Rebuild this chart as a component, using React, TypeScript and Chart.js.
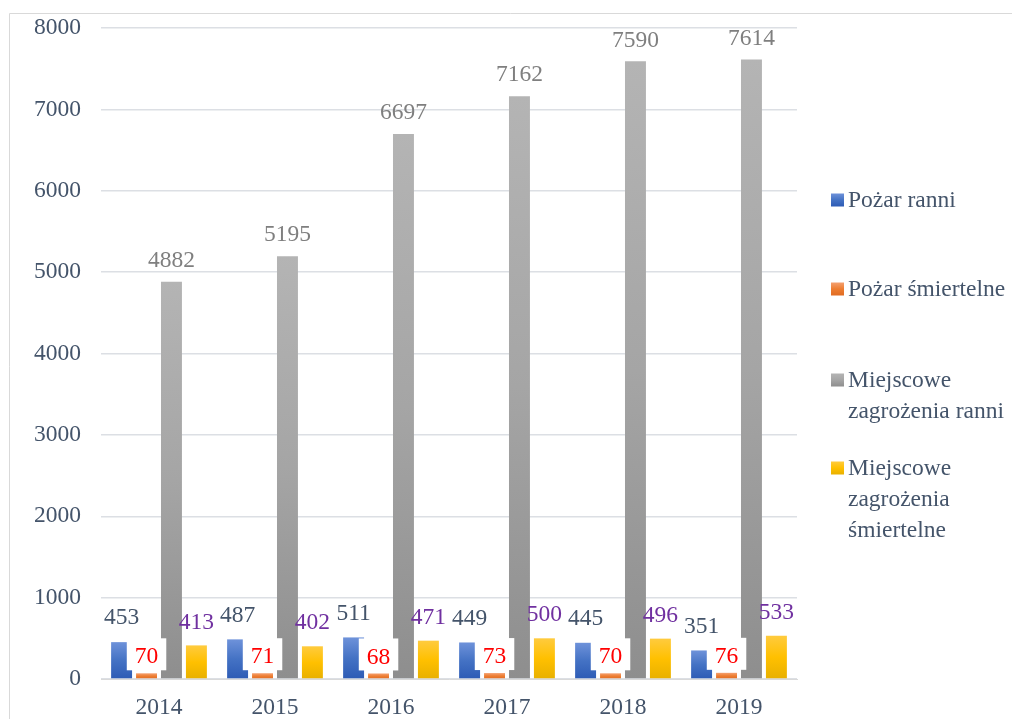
import React, { useEffect, useRef } from 'react';
import { Chart, registerables } from 'chart.js';

Chart.register(...registerables);

const years = ['2014', '2015', '2016', '2017', '2018', '2019'];
const pozarRanni = [453, 487, 511, 449, 445, 351];
const pozarSmiertelne = [70, 71, 68, 73, 70, 76];
const mzRanni = [4882, 5195, 6697, 7162, 7590, 7614];
const mzSmiertelne = [413, 402, 471, 500, 496, 533];
const seriesNames = [
  'Pożar ranni',
  'Pożar śmiertelne',
  'Miejscowe zagrożenia ranni',
  'Miejscowe zagrożenia śmiertelne',
];
const legendLines = [
  ['Pożar ranni'],
  ['Pożar śmiertelne'],
  ['Miejscowe', 'zagrożenia ranni'],
  ['Miejscowe', 'zagrożenia', 'śmiertelne'],
];

const FONT = '"Liberation Serif", "Times New Roman", serif';
const FS = 23.5;
const TEXT = '#44546A';

type Stops = [number, string][];
const blueStops: Stops = [[0, '#6E92DA'], [0.5, '#4472C4'], [1, '#2D5BB5']];
const orangeStops: Stops = [[0, '#F4A070'], [0.5, '#ED7D31'], [1, '#E06C22']];
const grayStops: Stops = [[0, '#B4B4B4'], [0.5, '#A5A5A5'], [1, '#8E8E8E']];
const yellowStops: Stops = [[0, '#FFCB3E'], [0.5, '#FFC000'], [1, '#E8B000']];

const labelStyles = [
  { color: '#44546A', offset: 25, box: false },
  { color: '#FF0000', offset: 17, box: true },
  { color: '#7F7F7F', offset: 22, box: false },
  { color: '#7030A0', offset: 24, box: false },
];

function grad(stops: Stops) {
  return (c: any) => {
    const chart = c.chart;
    const y = chart.scales && chart.scales.y;
    if (!y || c.type !== 'data' || !chart.chartArea) return stops[1][1];
    const top = y.getPixelForValue(c.raw);
    const bottom = y.getPixelForValue(0);
    if (!isFinite(top) || !isFinite(bottom) || top === bottom) return stops[1][1];
    const g = chart.ctx.createLinearGradient(0, top, 0, bottom);
    stops.forEach(([o, col]) => g.addColorStop(o, col));
    return g;
  };
}

const allStops = [blueStops, orangeStops, grayStops, yellowStops];

const labelPlugin = {
  id: 'valueLabels',
  afterDatasetsDraw(chart: any) {
    const ctx = chart.ctx;
    ctx.save();
    ctx.font = `${FS}px ${FONT}`;
    ctx.textAlign = 'center';
    ctx.textBaseline = 'middle';
    chart.data.datasets.forEach((ds: any, i: number) => {
      const meta = chart.getDatasetMeta(i);
      const st = labelStyles[i];
      meta.data.forEach((el: any, j: number) => {
        const txt = String(ds.data[j]);
        const cx = el.x;
        const cy = el.y - st.offset;
        if (st.box) {
          const w = ctx.measureText(txt).width;
          ctx.fillStyle = '#FFFFFF';
          ctx.fillRect(cx - w / 2 - 8, cy - 18, w + 16, 32);
        }
        ctx.fillStyle = st.color;
        ctx.fillText(txt, cx, cy + 1);
      });
    });
    ctx.restore();
  },
};

const framePlugin = {
  id: 'frameAndLegend',
  afterDraw(chart: any) {
    const ctx = chart.ctx;
    ctx.save();
    ctx.strokeStyle = '#D9D9D9';
    ctx.lineWidth = 1;
    ctx.beginPath();
    ctx.moveTo(9.5, chart.height);
    ctx.lineTo(9.5, 13.5);
    ctx.lineTo(chart.width, 13.5);
    ctx.stroke();

    // legend
    const startY = [200, 289, 380, 468];
    const lineH = 31;
    const boxX = 831;
    const textX = 848;
    ctx.font = `${FS}px ${FONT}`;
    ctx.textAlign = 'left';
    ctx.textBaseline = 'middle';
    legendLines.forEach((lines, i) => {
      const y0 = startY[i];
      const g = ctx.createLinearGradient(0, y0 - 6.5, 0, y0 + 6.5);
      allStops[i].forEach(([o, col]) => g.addColorStop(o, col));
      ctx.fillStyle = g;
      ctx.fillRect(boxX, y0 - 6.5, 13, 13);
      ctx.fillStyle = TEXT;
      lines.forEach((t, k) => {
        ctx.fillText(t, textX, y0 + 1 + k * lineH);
      });
    });
    ctx.restore();
  },
};

export default function App() {
  const ref = useRef<HTMLCanvasElement | null>(null);

  useEffect(() => {
    if (!ref.current) return;
    const seriesData = [pozarRanni, pozarSmiertelne, mzRanni, mzSmiertelne];
    const chart = new Chart(ref.current, {
      type: 'bar',
      data: {
        labels: years,
        datasets: seriesData.map((d, i) => ({
          label: seriesNames[i],
          data: d,
          backgroundColor: grad(allStops[i]) as any,
          borderWidth: 0,
          categoryPercentage: 0.86,
          barPercentage: 0.84,
        })),
      },
      options: {
        responsive: false,
        animation: false,
        devicePixelRatio: 1,
        layout: { padding: { top: 28, right: 215, left: 0, bottom: 0 } },
        plugins: {
          legend: { display: false },
          tooltip: { enabled: false },
        },
        scales: {
          x: {
            grid: { display: false, drawTicks: false },
            border: { display: true, color: '#D9D9D9', width: 1 },
            ticks: { font: { family: FONT, size: FS }, color: TEXT, padding: 15 },
            afterFit(s: any) {
              s.height = 40;
              s.paddingLeft = 0;
              s.paddingRight = 0;
            },
          },
          y: {
            min: 0,
            max: 8000,
            ticks: {
              stepSize: 1000,
              font: { family: FONT, size: FS },
              color: TEXT,
              padding: 20,
              callback: (v: any) => String(v),
            },
            grid: { color: '#DCDFE4', lineWidth: 1.5, drawTicks: false },
            border: { display: false },
            afterFit(s: any) {
              s.width = 101;
              s.paddingTop = 0;
              s.paddingBottom = 0;
            },
          },
        },
      },
      plugins: [labelPlugin, framePlugin],
    });
    return () => chart.destroy();
  }, []);

  return (
    <div style={{ position: 'absolute', left: 0, top: 0, width: 1012, height: 719, background: '#fff' }}>
      <canvas ref={ref} width={1012} height={719} style={{ display: 'block', width: 1012, height: 719 }} />
    </div>
  );
}
